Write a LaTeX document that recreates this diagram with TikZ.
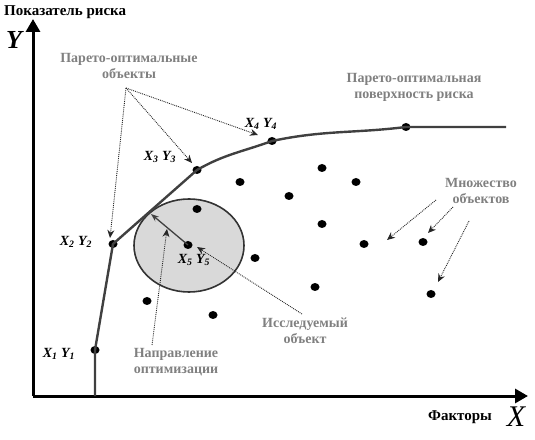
\documentclass[tikz,border=0pt]{standalone}
\usepackage{fontspec}
\setmainfont{Liberation Serif}
\usetikzlibrary{arrows.meta,shapes.geometric}
\definecolor{lblgray}{HTML}{808080}
\definecolor{curvegray}{HTML}{404040}
\definecolor{circfill}{HTML}{D9D9D9}
\begin{document}
\begin{tikzpicture}[x=1pt,y=1pt,
  dot/.style={ellipse,fill=black,inner sep=0pt,minimum width=9pt,minimum height=8pt},
  lbl/.style={text=lblgray,font=\fontsize{14}{16}\selectfont\bfseries,align=center,inner sep=0pt},
  ptlbl/.style={font=\fontsize{14}{15}\selectfont\bfseries\itshape,inner sep=0pt},
  axis/.style={line width=3pt,-{Triangle[length=13pt,width=14pt]}},
  curve/.style={curvegray,line width=2.4pt,line join=round},
  ptr/.style={densely dotted,line width=0.9pt,black!85,-{Stealth[length=8pt,width=7pt]}},
]
\useasboundingbox (0,0) rectangle (535,439);
% axes
\coordinate (O) at (33,43);
\coordinate (Ytip) at (33,420);
\coordinate (Xtip) at (528,43);
\draw[axis] (O) -- (Ytip);
\draw[axis] (O) -- (Xtip);
\node[font=\fontsize{15}{16}\selectfont\bfseries,anchor=west,inner sep=0pt] (ylab) at (4,427) {Показатель риска};
\node[font=\fontsize{26}{26}\selectfont\bfseries\itshape,inner sep=0pt] (Ybig) at (14,399) {Y};
\node[font=\fontsize{15}{16}\selectfont\bfseries,inner sep=0pt] (xlab) at (460,22) {Факторы};
\node[font=\fontsize{30}{30}\selectfont\itshape,inner sep=0pt] (Xbig) at (516,22) {X};
% circle
\node[ellipse,draw=black!80,line width=1.6pt,fill=circfill,minimum width=110pt,minimum height=93pt,inner sep=0pt] (circ) at (189,193.5) {};
% pareto points
\node[dot] (p1) at (95,89) {};
\node[dot] (p2) at (113,195) {};
\node[dot] (p3) at (197,269) {};
\node[dot] (p4) at (272,298) {};
\node[dot] (p6) at (406,312) {};
\coordinate (base) at (95,43);
\coordinate (cend) at (506,312);
\coordinate (t) at (151,225);
\draw[curve] (base) -- (p1.center) -- (p2.center) -- (p3.center) to[out=30,in=200] (p4.center) to[out=12,in=187] (p6.center) -- (cend);
% other objects
\node[dot] (p5) at (188,194) {};
\node[dot] (o1) at (240,257) {};
\node[dot] (o2) at (197,230) {};
\node[dot] (o3) at (322,271) {};
\node[dot] (o4) at (356,257) {};
\node[dot] (o5) at (289,243) {};
\node[dot] (o6) at (322,215) {};
\node[dot] (o7) at (364,195) {};
\node[dot] (o8) at (423,197) {};
\node[dot] (o9) at (315,152) {};
\node[dot] (o10) at (431,145) {};
\node[dot] (o11) at (255,181) {};
\node[dot] (o12) at (147,138) {};
\node[dot] (o13) at (213,124) {};
% optimization direction arrow
\draw[curvegray,line width=1.3pt,-{Stealth[length=8pt,width=6pt]}] (p5.center) -- (t);
% point labels
\node[ptlbl] (l1) at (59,85) {X\textsubscript{1} Y\textsubscript{1}};
\node[ptlbl] (l2) at (76,197) {X\textsubscript{2} Y\textsubscript{2}};
\node[ptlbl] (l3) at (160,282) {X\textsubscript{3} Y\textsubscript{3}};
\node[ptlbl] (l4) at (261,315) {X\textsubscript{4} Y\textsubscript{4}};
\node[ptlbl] (l5) at (194,179) {X\textsubscript{5} Y\textsubscript{5}};
% gray labels
\node[lbl] (po) at (129,373) {Парето-оптимальные\\объекты};
\node[lbl] (pos) at (414,352) {Парето-оптимальная\\поверхность риска};
\node[lbl] (mno) at (481,248) {Множество\\объектов};
\node[lbl] (iss) at (305,108) {Исследуемый\\объект};
\node[lbl] (nap) at (176,77) {Направление\\оптимизации};
% pointers
\coordinate (hub) at (126,351);
\coordinate (a4) at (258,304);
\coordinate (a3) at (192,276);
\coordinate (a2) at (110,201);
\draw[ptr] (hub) -- (a4);
\draw[ptr] (hub) -- (a3);
\draw[ptr] (hub) -- (a2);
\coordinate (m1s) at (436,239); \coordinate (m1e) at (387,199);
\coordinate (m2s) at (453,232); \coordinate (m2e) at (428,206);
\coordinate (m3s) at (469,218); \coordinate (m3e) at (438,157);
\draw[ptr] (m1s) -- (m1e);
\draw[ptr] (m2s) -- (m2e);
\draw[ptr] (m3s) -- (m3e);
\coordinate (ns) at (152,94); \coordinate (ne) at (167,210);
\draw[ptr] (ns) -- (ne);
\coordinate (is) at (302,125); \coordinate (ie) at (197,192);
\draw[ptr] (is) -- (ie);
\end{tikzpicture}
\end{document}
